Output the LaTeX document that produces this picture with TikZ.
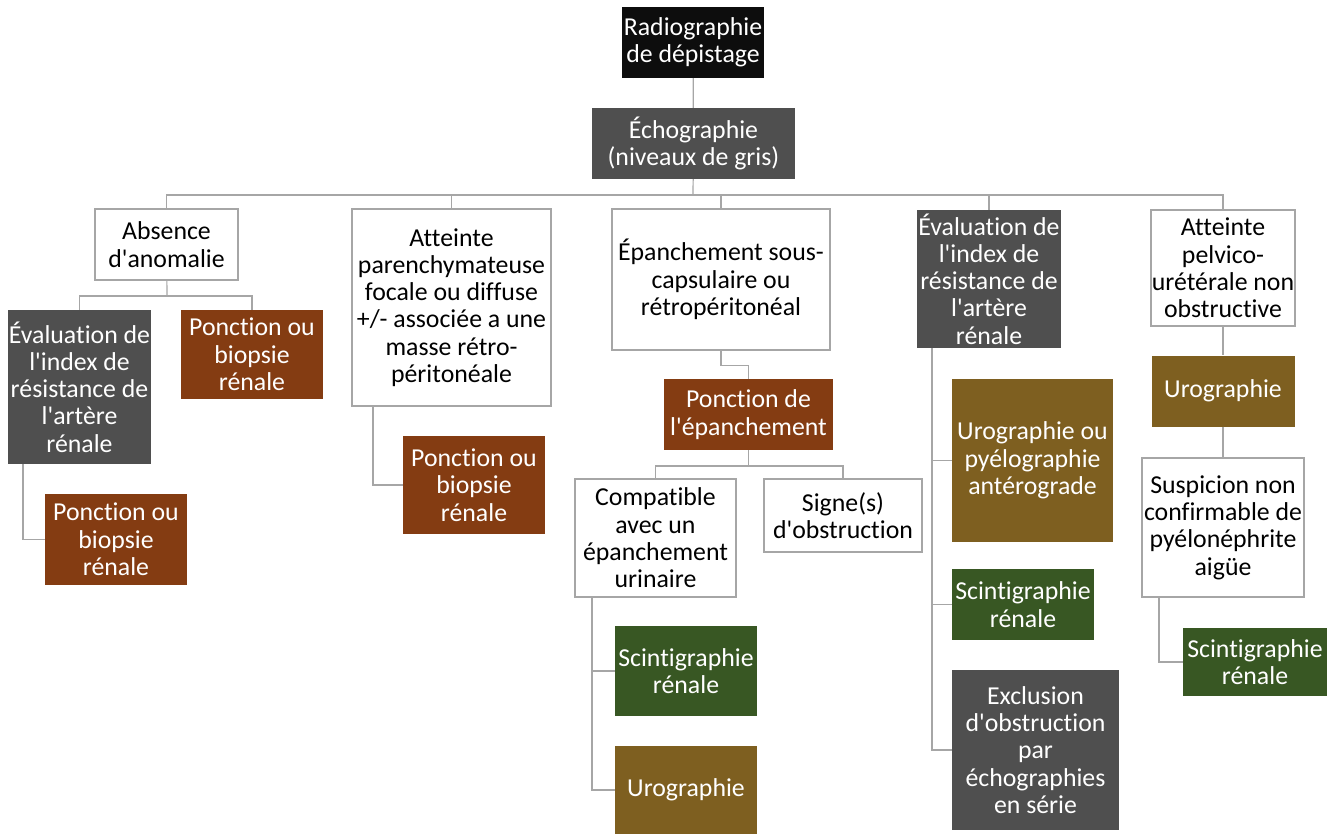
\documentclass[tikz,border=0pt]{standalone}
\usepackage{fontspec}
\setmainfont{Carlito}[Ligatures={TeXOff,NoCommon}]
\usepackage{xcolor}
\definecolor{noirbox}{HTML}{0D0D0D}
\definecolor{grisfonce}{HTML}{4F4F4F}
\definecolor{brun}{HTML}{843C12}
\definecolor{vert}{HTML}{385723}
\definecolor{ocre}{HTML}{7E5F20}
\definecolor{lignegris}{HTML}{A6A6A6}
\usetikzlibrary{positioning}

\begin{document}
\begin{tikzpicture}[
  x=1pt, y=-1pt,
  box/.style={rectangle, inner sep=0pt, align=center, text=white,
              font=\fontsize{25.8}{27.3}\selectfont},
  blanc/.style={box, draw=lignegris, line width=1.6pt, fill=white, text=black},
  noir/.style={box, fill=noirbox},
  gris/.style={box, fill=grisfonce},
  brunbox/.style={box, fill=brun},
  vertbox/.style={box, fill=vert},
  ocrebox/.style={box, fill=ocre},
  lien/.style={draw=lignegris, line width=1.2pt},
]
  \useasboundingbox (0,0) rectangle (1338,834);

  % Examens de base
  \node[noir, minimum width=142pt, minimum height=71pt] (radio) at (693,42.5) {Radiographie\\de dépistage};
  \node[gris, minimum width=203pt, minimum height=71pt] (echo) at (693.5,143.5) {Échographie\\(niveaux de gris)};

  % Résultats de l'échographie
  \node[blanc, minimum width=143pt, minimum height=71pt] (absence) at (166.5,244.5) {Absence\\d'anomalie};
  \node[blanc, minimum width=199pt, minimum height=197pt] (parench) at (451.5,307.5)
    {Atteinte\\parenchymateuse\\focale ou diffuse\\+/- associée a une\\masse rétro-\\péritonéale};
  \node[blanc, minimum width=218pt, minimum height=141pt] (epanch) at (721,279.5)
    {Épanchement sous-\\capsulaire ou\\rétropéritonéal};
  \node[gris, minimum width=144pt, minimum height=138pt] (evalD) at (989,279)
    {Évaluation de\\l'index de\\résistance de\\l'artère\\rénale};
  \node[blanc, minimum width=144pt, minimum height=116pt] (pelvi) at (1223,268)
    {Atteinte\\pelvico-\\urétérale non\\obstructive};

  % Branche absence d'anomalie
  \node[gris, minimum width=143pt, minimum height=154pt] (evalG) at (79.5,387)
    {Évaluation de\\l'index de\\résistance de\\l'artère\\rénale};
  \node[brunbox, minimum width=142pt, minimum height=89pt] (ponctA) at (252,354.5) {Ponction ou\\biopsie\\rénale};
  \node[brunbox, minimum width=142pt, minimum height=91pt] (ponctB) at (116,539.5) {Ponction ou\\biopsie\\rénale};

  % Branche atteinte parenchymateuse
  \node[brunbox, minimum width=142pt, minimum height=98pt] (ponctC) at (474,485) {Ponction ou\\biopsie\\rénale};

  % Branche épanchement
  \node[brunbox, minimum width=169pt, minimum height=71pt] (ponctEp) at (748.5,414.5) {Ponction de\\l'épanchement};
  \node[blanc, minimum width=161pt, minimum height=118pt] (compat) at (655.5,538)
    {Compatible\\avec un\\épanchement\\urinaire};
  \node[blanc, minimum width=158pt, minimum height=73pt] (signe) at (843,515.5) {Signe(s)\\d'obstruction};
  \node[vertbox, minimum width=142pt, minimum height=90pt] (scintA) at (686,671) {Scintigraphie\\rénale};
  \node[ocrebox, minimum width=142pt, minimum height=88pt] (uroA) at (686,790) {Urographie};

  % Branche index de résistance
  \node[ocrebox, minimum width=161pt, minimum height=163pt] (uroPyelo) at (1032.5,460.5)
    {Urographie ou\\pyélographie\\antérograde};
  \node[vertbox, minimum width=142pt, minimum height=71pt] (scintB) at (1023,604.5) {Scintigraphie\\rénale};
  \node[gris, minimum width=167pt, minimum height=160pt] (exclu) at (1035.5,750)
    {Exclusion\\d'obstruction\\par\\échographies\\en série};

  % Branche pelvico-urétérale
  \node[ocrebox, minimum width=143pt, minimum height=71pt] (uroB) at (1223,391) {Urographie};
  \node[blanc, minimum width=162pt, minimum height=139pt] (suspi) at (1223,527.5)
    {Suspicion non\\confirmable de\\pyélonéphrite\\aigüe};
  \node[vertbox, minimum width=144pt, minimum height=68pt] (scintC) at (1255,662) {Scintigraphie\\rénale};

  % Liaisons
  \coordinate (bus) at (693,195);
  \coordinate (busA) at (167,296);
  \coordinate (busE) at (748.5,466);

  \draw[lien] (radio) -- (echo);
  \draw[lien] (echo) -- (bus);
  \foreach \n in {absence, parench, epanch, evalD, pelvi}
    \draw[lien] (bus) -| (\n.north);

  \draw[lien] (absence) -- (busA);
  \draw[lien] (busA) -| (evalG.north);
  \draw[lien] (busA) -| (ponctA.north);
  \draw[lien] ([xshift=-56.5pt]evalG.south) |- (ponctB.west);

  \draw[lien] ([xshift=-78.5pt]parench.south) |- (ponctC.west);

  \draw[lien] (epanch.south) -- ++(0,15) -| (ponctEp.north);
  \draw[lien] (ponctEp) -- (busE);
  \draw[lien] (busE) -| (compat.north);
  \draw[lien] (busE) -| (signe.north);
  \draw[lien] ([xshift=-63.5pt]compat.south) |- (scintA.west);
  \draw[lien] ([xshift=-63.5pt]compat.south) |- (uroA.west);

  \foreach \n in {uroPyelo, scintB, exclu}
    \draw[lien] ([xshift=-57pt]evalD.south) |- (\n.west);

  \draw[lien] (pelvi) -- (uroB);
  \draw[lien] (uroB) -- (suspi);
  \draw[lien] ([xshift=-64pt]suspi.south) |- (scintC.west);
\end{tikzpicture}
\end{document}
